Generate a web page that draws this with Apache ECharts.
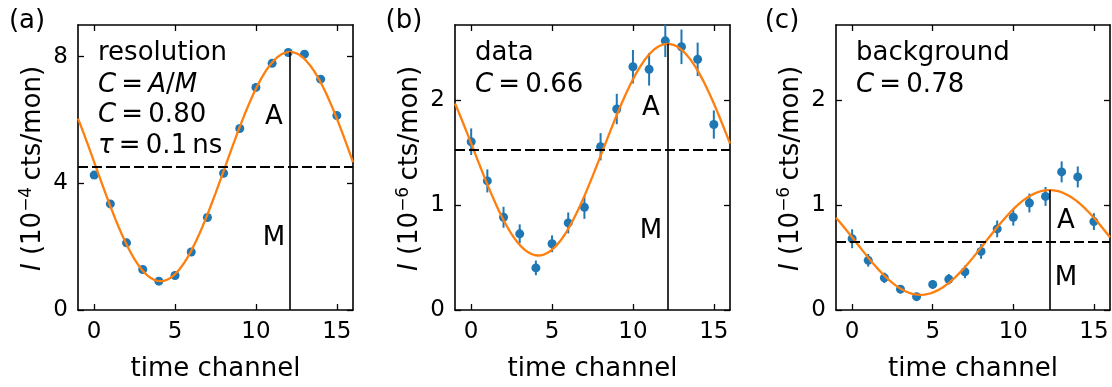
<!DOCTYPE html>
<html>
<head>
<meta charset="utf-8">
<script src="https://cdn.jsdelivr.net/npm/echarts@6/dist/echarts.min.js"></script>
<style>
  html, body { margin: 0; padding: 0; background: #ffffff; }
  #chart { width: 1112px; height: 387px; }
</style>
</head>
<body>
<div id="chart"></div>
<script>
// Time channels of the echo measurement
const channels = [0, 1, 2, 3, 4, 5, 6, 7, 8, 9, 10, 11, 12, 13, 14, 15];

// (a) resolution, in 1e-4 cts/mon
const resolutionValues = [4.26, 3.35, 2.12, 1.28, 0.91, 1.09, 1.83, 2.92, 4.32, 5.73, 7.03, 7.79, 8.13, 8.08, 7.29, 6.14];
const resolutionErrors = [0.05, 0.05, 0.04, 0.04, 0.03, 0.03, 0.04, 0.05, 0.05, 0.06, 0.06, 0.07, 0.07, 0.07, 0.06, 0.06];

// (b) data, in 1e-6 cts/mon
const dataValues = [1.606, 1.232, 0.885, 0.727, 0.402, 0.632, 0.831, 0.980, 1.558, 1.918, 2.322, 2.297, 2.569, 2.512, 2.392, 1.770];
const dataErrors = [0.127, 0.11, 0.10, 0.09, 0.07, 0.08, 0.10, 0.11, 0.13, 0.145, 0.16, 0.155, 0.155, 0.165, 0.16, 0.135];

// (c) background, in 1e-6 cts/mon
const backgroundValues = [0.680, 0.474, 0.307, 0.199, 0.127, 0.244, 0.294, 0.364, 0.559, 0.774, 0.885, 1.021, 1.084, 1.318, 1.270, 0.844];
const backgroundErrors = [0.09, 0.06, 0.05, 0.04, 0.035, 0.04, 0.05, 0.06, 0.07, 0.08, 0.08, 0.09, 0.09, 0.10, 0.10, 0.08];

// Cosine fit I(t) = M + A cos(2π (t − t0) / period), one entry per panel
const fitMean = [4.53, 1.53, 0.645];
const fitAmplitude = [3.62, 1.01, 0.50];
const fitPeakChannel = [12.1, 12.15, 12.25];
const fitPeriod = 16;

// Axis ticks
const xTicks = [0, 5, 10, 15];
const yTicksResolution = [0, 4, 8];
const yTicksCounts = [0, 1, 2];
const yMax = [9, 2.72, 2.72];
const yExponent = ['−4', '−6', '−6'];

const panelLetters = ['(a)', '(b)', '(c)'];
const EQ = '\u2009=\u2009';
const panelTitles = [
  ['resolution', '{i|C}' + EQ + '{i|A}/{i|M}', '{i|C}' + EQ + '0.80', '{i|τ}' + EQ + '0.1\u2009ns'],
  ['data', '{i|C}' + EQ + '0.66'],
  ['background', '{i|C}' + EQ + '0.78']
];

const BLUE = '#1f77b4';
const ORANGE = '#ff7f0e';
const FONT = 'DejaVu Sans';

const panelValues = [resolutionValues, dataValues, backgroundValues];
const panelErrors = [resolutionErrors, dataErrors, backgroundErrors];
const yTicks = [yTicksResolution, yTicksCounts, yTicksCounts];

const grids = [
  { left: 78, top: 25, width: 275, height: 287 },
  { left: 455, top: 25, width: 275, height: 287 },
  { left: 836, top: 25, width: 274, height: 287 }
];

const axisLineStyle = { color: '#000', width: 1.6 };
const tickStyle = { color: '#000', width: 1.3 };

function fitCurve(i) {
  const pts = [];
  for (let k = 0; k <= 170; k++) {
    const t = -1 + k * 0.1;
    pts.push([t, fitMean[i] + fitAmplitude[i] * Math.cos(2 * Math.PI * (t - fitPeakChannel[i]) / fitPeriod)]);
  }
  return pts;
}

const xAxes = [];
const yAxes = [];
const series = [];
const graphic = [];

grids.forEach((g, i) => {
  // bottom and top x axes (ticks inward on every side of the frame)
  xAxes.push({
    gridIndex: i, type: 'value', min: -1, max: 16, position: 'bottom',
    axisLine: { show: true, onZero: false, lineStyle: axisLineStyle },
    axisTick: { show: true, inside: true, length: 6, customValues: xTicks, lineStyle: tickStyle },
    axisLabel: { customValues: xTicks, color: '#000', fontFamily: FONT, fontSize: 23, margin: 11 },
    splitLine: { show: false },
    name: 'time channel', nameLocation: 'middle', nameGap: 46,
    nameTextStyle: { color: '#000', fontFamily: FONT, fontSize: 26 }
  });
  xAxes.push({
    gridIndex: i, type: 'value', min: -1, max: 16, position: 'top',
    axisLine: { show: true, onZero: false, lineStyle: axisLineStyle },
    axisTick: { show: true, inside: true, length: 6, customValues: xTicks, lineStyle: tickStyle },
    axisLabel: { show: false },
    splitLine: { show: false }
  });
  yAxes.push({
    gridIndex: i, type: 'value', min: 0, max: yMax[i], position: 'left',
    axisLine: { show: true, onZero: false, lineStyle: axisLineStyle },
    axisTick: { show: true, inside: true, length: 6, customValues: yTicks[i], lineStyle: tickStyle },
    axisLabel: { customValues: yTicks[i], color: '#000', fontFamily: FONT, fontSize: 23, margin: 10 },
    splitLine: { show: false }
  });
  yAxes.push({
    gridIndex: i, type: 'value', min: 0, max: yMax[i], position: 'right',
    axisLine: { show: true, onZero: false, lineStyle: axisLineStyle },
    axisTick: { show: true, inside: true, length: 6, customValues: yTicks[i], lineStyle: tickStyle },
    axisLabel: { show: false },
    splitLine: { show: false }
  });

  const xi = i * 2;
  const yi = i * 2;
  const pts = channels.map((c, k) => [c, panelValues[i][k], panelErrors[i][k]]);

  // error bars
  series.push({
    type: 'custom', xAxisIndex: xi, yAxisIndex: yi, z: 2, silent: true,
    data: pts, encode: { x: 0, y: 1 },
    renderItem: (params, api) => {
      const x = api.value(0), y = api.value(1), e = api.value(2);
      const p1 = api.coord([x, y - e]);
      const p2 = api.coord([x, y + e]);
      return {
        type: 'line',
        shape: { x1: p1[0], y1: p1[1], x2: p2[0], y2: p2[1] },
        style: { stroke: BLUE, lineWidth: 2 }
      };
    }
  });
  // measured points
  series.push({
    type: 'scatter', xAxisIndex: xi, yAxisIndex: yi, z: 3, silent: true,
    data: pts.map(p => [p[0], p[1]]), symbolSize: 9,
    itemStyle: { color: BLUE, opacity: 1 }
  });
  // cosine fit with mean level M and amplitude A marked
  const peak = fitMean[i] + fitAmplitude[i];
  series.push({
    type: 'line', xAxisIndex: xi, yAxisIndex: yi, z: 4, silent: true,
    data: fitCurve(i), showSymbol: false, smooth: false,
    lineStyle: { color: ORANGE, width: 2.3 },
    markLine: {
      silent: true, symbol: 'none', animation: false,
      label: { show: false },
      data: [
        { yAxis: fitMean[i], lineStyle: { color: '#000', width: 2, type: [10, 4] } },
        [
          { coord: [fitPeakChannel[i], 0], lineStyle: { color: '#000', width: 1.6, type: 'solid' } },
          { coord: [fitPeakChannel[i], peak] }
        ]
      ]
    }
  });
});

// annotation texts
const richStyles = {
  n: { fontFamily: FONT, fontSize: 26, fill: '#000' },
  i: { fontFamily: FONT, fontSize: 26, fontStyle: 'italic', fill: '#000' },
  s: { fontFamily: FONT, fontSize: 17, fill: '#000', verticalAlign: 'bottom', padding: [0, 1, 12, 0] }
};

function addText(x, y, text, align, rotation) {
  graphic.push({
    type: 'text', x: x, y: y, rotation: rotation || 0, silent: true, z: 10,
    style: {
      text: text, fontFamily: FONT, fontSize: 26, fill: '#000',
      align: align || 'left', verticalAlign: 'middle', rich: richStyles
    }
  });
}

const letterPos = [[27, 21], [404, 21], [782, 21]];
panelLetters.forEach((s, i) => addText(letterPos[i][0], letterPos[i][1], s, 'center'));

// rotated y-axis titles
grids.forEach((g, i) => {
  addText(g.left - 45, g.top + g.height / 2,
    '{i|I}{n| (10}{s|' + yExponent[i] + '}{n|\u2009cts/mon)}', 'center', Math.PI / 2);
});

const titleLeft = [98, 475, 856];
const titleRows = [53, 85, 115, 146];
panelTitles.forEach((rows, i) => rows.forEach((s, r) => addText(titleLeft[i], titleRows[r], s)));

const labelA = [[274, 117], [651, 108], [1066, 221]];
const labelM = [[274, 238], [651, 231], [1066, 278]];
labelA.forEach(p => addText(p[0], p[1], 'A', 'center'));
labelM.forEach(p => addText(p[0], p[1], 'M', 'center'));

const chart = echarts.init(document.getElementById('chart'));
chart.setOption({
  animation: false,
  backgroundColor: '#fff',
  textStyle: { fontFamily: FONT, color: '#000' },
  grid: grids.map(g => Object.assign({ show: false, containLabel: false }, g)),
  xAxis: xAxes,
  yAxis: yAxes,
  series: series,
  graphic: graphic
});
</script>
</body>
</html>
